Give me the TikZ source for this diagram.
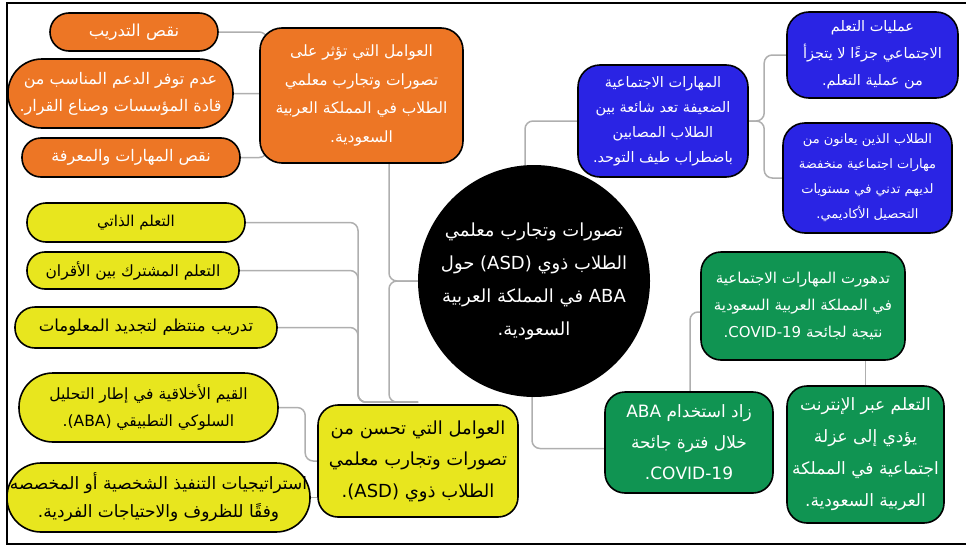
\documentclass[tikz,border=0pt]{standalone}
\usepackage{fontspec}
\newfontfamily\arabicfont[Script=Arabic]{DejaVu Sans}
\TeXXeTstate=1
\usetikzlibrary{backgrounds}
\definecolor{orangec}{RGB}{237,118,37}
\definecolor{bluec}{RGB}{42,36,228}
\definecolor{yellowc}{RGB}{232,230,30}
\definecolor{greenc}{RGB}{16,148,82}
\definecolor{linec}{RGB}{175,175,175}
\newcommand\artxt[1]{\beginR #1\endR}
\newcommand\fs[2]{\arabicfont\fontsize{#1}{#2}\selectfont}
\tikzset{
  box/.style={draw=black, line width=1.6pt, align=center, inner sep=0pt},
  orangebox/.style={box, fill=orangec, text=white},
  bluebox/.style={box, fill=bluec, text=white},
  yellowbox/.style={box, fill=yellowc, text=black},
  greenbox/.style={box, fill=greenc, text=white},
  conn/.style={draw=linec, line width=1.5pt, rounded corners=8pt},
  framestyle/.style={draw=black, line width=2pt}
}
\begin{document}
\begin{tikzpicture}[x=1pt,y=-1pt]
\useasboundingbox (0,0) rectangle (966,546);
\draw[framestyle] (970,3) -- (7,3) -- (7,544) -- (970,544);

% orange group
\node[orangebox, minimum width=168pt, minimum height=38pt, rounded corners=19pt, font=\fs{16.5}{27}] (o1) at (134,32) {\artxt{نقص التدريب}};
\node[orangebox, minimum width=225pt, minimum height=69pt, rounded corners=34pt, font=\fs{16}{27}] (o2) at (120.5,93.5) {\artxt{عدم توفر  الدعم المناسب من}\\\artxt{قادة المؤسسات وصناع القرار.}};
\node[orangebox, minimum width=218pt, minimum height=39pt, rounded corners=19pt, font=\fs{16}{27}] (o3) at (131,157.5) {\artxt{نقص المهارات والمعرفة}};
\node[orangebox, minimum width=203pt, minimum height=135pt, rounded corners=22pt, font=\fs{15.5}{28.5}] (om) at (361.5,95.5) {\artxt{العوامل التي تؤثر على}\\\artxt{تصورات وتجارب معلمي}\\\artxt{الطلاب في المملكة العربية}\\\artxt{السعودية.}};

% blue group
\node[bluebox, minimum width=170pt, minimum height=112pt, rounded corners=22pt, font=\fs{14.5}{25}] (bm) at (663,121) {\artxt{المهارات الاجتماعية}\\\artxt{الضعيفة تعد شائعة بين}\\\artxt{الطلاب المصابين}\\\artxt{باضطراب طيف التوحد.}};
\node[bluebox, minimum width=171pt, minimum height=86pt, rounded corners=22pt, font=\fs{14.5}{27}] (b1) at (872.5,55) {\artxt{عمليات التعلم}\\\artxt{الاجتماعي جزءًا لا يتجزأ}\\\artxt{من عملية التعلم.}};
\node[bluebox, minimum width=169pt, minimum height=110pt, rounded corners=22pt, font=\fs{13}{25}] (b2) at (867.5,178) {\artxt{الطلاب الذين يعانون من}\\\artxt{مهارات اجتماعية منخفضة}\\\artxt{لديهم تدني في مستويات}\\\artxt{التحصيل الأكاديمي.}};

% centre
\node[circle, fill=black, minimum size=232pt, inner sep=0pt, text=white, align=center, font=\fs{18}{33}] (c) at (534,281) {\artxt{تصورات وتجارب معلمي}\\\artxt{الطلاب ذوي \beginL(ASD)\endL{} حول}\\\artxt{\beginL ABA\endL{} في المملكة العربية}\\\artxt{السعودية.}};

% green group
\node[greenbox, minimum width=204pt, minimum height=108pt, rounded corners=20pt, font=\fs{15}{27}] (gt) at (803,306) {\artxt{تدهورت المهارات الاجتماعية}\\\artxt{في المملكة العربية السعودية}\\\artxt{نتيجة لجائحة \beginL COVID-19\endL.}};
\node[greenbox, minimum width=168pt, minimum height=101pt, rounded corners=20pt, font=\fs{17}{31}] (gl) at (689,442.5) {\artxt{زاد استخدام \beginL ABA\endL}\\\artxt{خلال فترة جائحة}\\\artxt{\beginL COVID-19\endL.}};
\node[greenbox, minimum width=157pt, minimum height=137pt, rounded corners=20pt, font=\fs{17}{32}] (gr) at (865.5,454.5) {\artxt{التعلم عبر الإنترنت}\\\artxt{يؤدي إلى عزلة}\\\artxt{اجتماعية في المملكة}\\\artxt{العربية السعودية.}};

% yellow group
\node[yellowbox, minimum width=200pt, minimum height=112pt, rounded corners=20pt, font=\fs{18}{31.5}] (ym) at (418,461) {\artxt{العوامل التي تحسن من}\\\artxt{تصورات وتجارب معلمي}\\\artxt{الطلاب ذوي \beginL(ASD)\endL.}};
\node[yellowbox, minimum width=218pt, minimum height=39pt, rounded corners=19pt, font=\fs{15}{27}] (y1) at (136,222.5) {\artxt{التعلم الذاتي}};
\node[yellowbox, minimum width=212pt, minimum height=37pt, rounded corners=18pt, font=\fs{15.5}{27}] (y2) at (133,270.5) {\artxt{التعلم المشترك بين الأقران}};
\node[yellowbox, minimum width=262pt, minimum height=41pt, rounded corners=20pt, font=\fs{16.5}{27}] (y3) at (146,327.5) {\artxt{تدريب منتظم لتجديد المعلومات}};
\node[yellowbox, minimum width=259pt, minimum height=69pt, rounded corners=34pt, font=\fs{15.5}{27}] (y4) at (148.5,407.5) {\artxt{القيم الأخلاقية في إطار التحليل}\\\artxt{السلوكي  التطبيقي \beginL(ABA)\endL.}};
\node[yellowbox, minimum width=303pt, minimum height=69pt, rounded corners=34pt, font=\fs{17}{28}] (y5) at (158.5,497.5) {\artxt{استراتيجيات التنفيذ الشخصية أو المخصصه}\\\artxt{وفقًا للظروف والاحتياجات الفردية.}};

\begin{pgfonlayer}{background}
  \draw[conn] (o1.east) -| ([xshift=8pt]om.west);
  \draw[conn] (o2.east) -| ([xshift=8pt]om.west);
  \draw[conn] (o3.east) -| ([xshift=8pt]om.west);
  \draw[conn] ([xshift=27.5pt]om.south) |- (c.center);
  \draw[conn] (c.center) -| ([xshift=-29pt,yshift=2pt]ym.north) -- ([yshift=2pt]ym.north);
  \draw[conn] (y1.east) -| ([xshift=-60pt,yshift=2pt]ym.north) -- ([yshift=2pt]ym.north);
  \draw[conn] (y2.east) -| ([xshift=-60pt,yshift=2pt]ym.north) -- ([yshift=2pt]ym.north);
  \draw[conn] (y3.east) -| ([xshift=-60pt,yshift=2pt]ym.north) -- ([yshift=2pt]ym.north);
  \draw[conn] (y4.east) -| ([xshift=-12pt]ym.west) -- (ym.west);
  \draw[conn] (y5.east) -- (y5.east -| ym.west);
  \draw[conn] ([xshift=-9pt]c.center) |- (bm.west);
  \draw[conn] (bm.east) -| ([xshift=-22pt]b1.west) -- (b1.west);
  \draw[conn] (bm.east) -| ([xshift=-18pt]b2.west) -- (b2.west);
  \draw[conn] ([xshift=-2pt]c.center) |- ([yshift=-6pt]gl.west);
  \draw[conn] ([xshift=1pt]gl.north) |- ([yshift=-6pt]gt.west);
  \draw[conn] (gr.north |- gt.south) -- (gr.north);
\end{pgfonlayer}
\end{tikzpicture}
\end{document}
